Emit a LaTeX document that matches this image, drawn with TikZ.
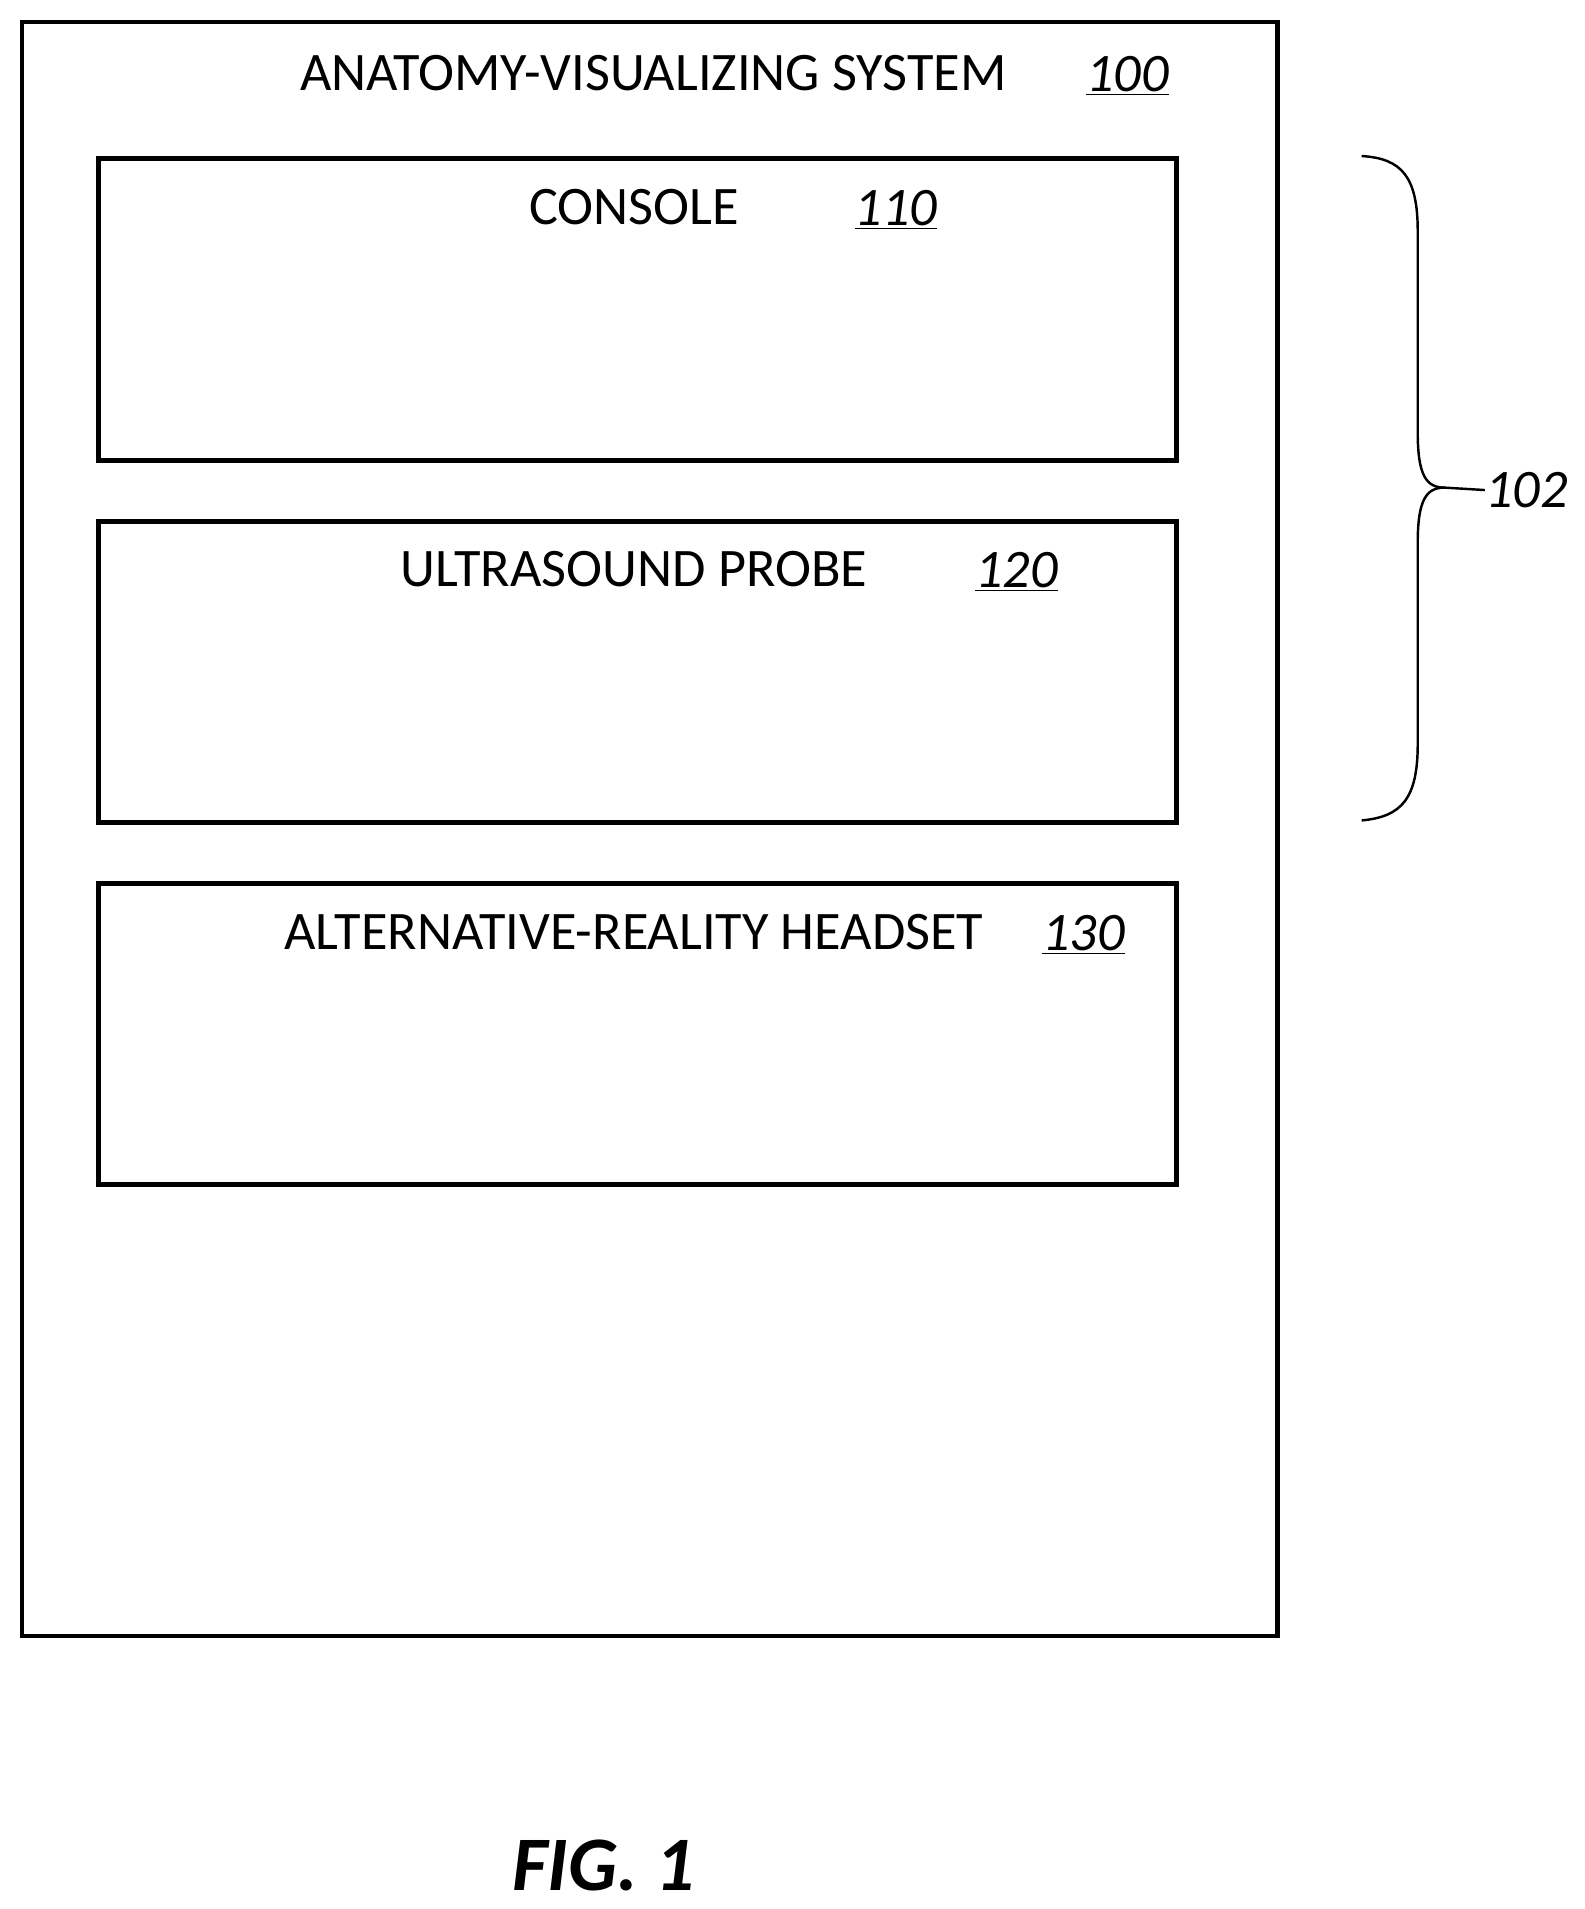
\documentclass[tikz,border=0pt]{standalone}
\usepackage{fontspec}
\setmainfont{Carlito}
\begin{document}
\begin{tikzpicture}[x=0.03cm,y=-0.03cm,
  box/.style={draw,line width=4*0.03cm},
  lbl/.style={font=\fontsize{38}{40}\selectfont,inner sep=0},
  num/.style={font=\fontsize{38}{40}\selectfont\itshape,inner sep=0}]
\useasboundingbox (0,0) rectangle (1300,1566);
\draw[box] (18,18) rectangle (1048,1342);
\node[box,minimum width=884*0.03cm,minimum height=248*0.03cm,anchor=north west,inner sep=0] (con) at (79,128) {};
\node[box,minimum width=884*0.03cm,minimum height=247*0.03cm,anchor=north west,inner sep=0] (pro) at (79,426) {};
\node[box,minimum width=884*0.03cm,minimum height=247*0.03cm,anchor=north west,inner sep=0] (hea) at (79,723) {};
\node[lbl] (t0) at (536,60) {ANATOMY-VISUALIZING SYSTEM};
\node[num] (n0) at (925,62) {\underline{100}};
\node[lbl] (t1) at (520,170) {CONSOLE};
\node[num] (n1) at (735,172) {\underline{110}};
\node[lbl] (t2) at (520,467) {ULTRASOUND PROBE};
\node[num] (n2) at (834,469) {\underline{120}};
\node[lbl] (t3) at (520,765) {ALTERNATIVE-REALITY HEADSET};
\node[num] (n3) at (889,767) {\underline{130}};
\node[num,anchor=west] (b) at (1218,402) {102};
\draw[line width=2*0.03cm] (1117,128) .. controls (1150,130) and (1163,145) .. (1163,190)
  -- (1163,355) .. controls (1163,390) and (1170,400) .. (1185,400) -- (b.west);
\draw[line width=2*0.03cm] (1185,400) .. controls (1170,400) and (1163,410) .. (1163,445)
  -- (1163,610) .. controls (1163,655) and (1150,670) .. (1117,673);
\node[font=\fontsize{54}{58}\selectfont\bfseries\itshape,inner sep=0] (fig) at (495,1530) {FIG. 1};
\end{tikzpicture}
\end{document}
